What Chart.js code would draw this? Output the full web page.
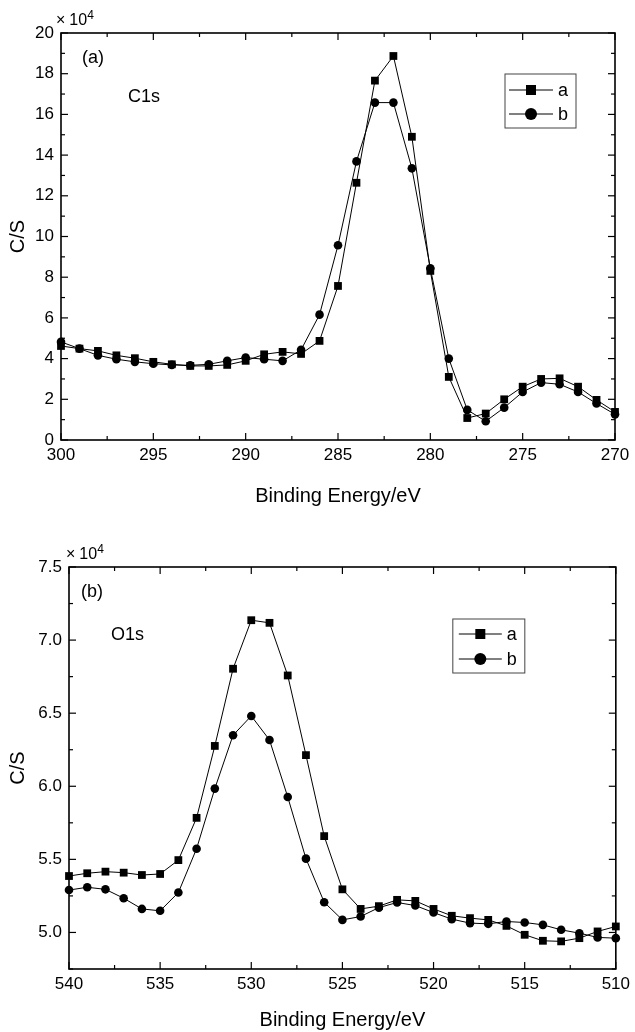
<!DOCTYPE html>
<html>
<head>
<meta charset="utf-8">
<script src="https://cdn.jsdelivr.net/npm/chart.js@4.4.1/dist/chart.umd.min.js"></script>
<style>
  html, body { margin: 0; padding: 0; background: #fff; }
  body { width: 635px; height: 1032px; position: relative; overflow: hidden; }
  .panel { position: absolute; left: 0; width: 635px; }
  #boxA { top: 0; height: 515px; }
  #boxB { top: 515px; height: 517px; }
</style>
</head>
<body>
<div class="panel" id="boxA"><canvas id="chartA" width="635" height="515"></canvas></div>
<div class="panel" id="boxB"><canvas id="chartB" width="635" height="517"></canvas></div>
<script>
'use strict';

// ---- data (C/S in units of 10^4) ----
let energyC = [300, 299, 298, 297, 296, 295, 294, 293, 292, 291, 290, 289, 288, 287, 286, 285,
  284, 283, 282, 281, 280, 279, 278, 277, 276, 275, 274, 273, 272, 271, 270];
let c1sA = [4.62, 4.49, 4.38, 4.16, 4.02, 3.84, 3.72, 3.64, 3.64, 3.69, 3.89, 4.21, 4.33, 4.23, 4.87, 7.57,
  12.64, 17.66, 18.87, 14.9, 8.31, 3.1, 1.08, 1.30, 2.0, 2.62, 3.0, 3.03, 2.62, 1.97, 1.38];
let c1sB = [4.82, 4.49, 4.16, 3.97, 3.84, 3.75, 3.69, 3.67, 3.72, 3.89, 4.05, 3.97, 3.89, 4.43, 6.16, 9.57,
  13.69, 16.58, 16.58, 13.35, 8.44, 4.0, 1.48, 0.92, 1.59, 2.36, 2.82, 2.74, 2.36, 1.79, 1.26];

let energyO = [540, 539, 538, 537, 536, 535, 534, 533, 532, 531, 530, 529, 528, 527, 526, 525,
  524, 523, 522, 521, 520, 519, 518, 517, 516, 515, 514, 513, 512, 511, 510];
let o1sA = [5.386, 5.405, 5.416, 5.409, 5.393, 5.40, 5.495, 5.784, 6.276, 6.804, 7.136, 7.118, 6.758, 6.213, 5.659, 5.295,
  5.161, 5.18, 5.223, 5.216, 5.161, 5.114, 5.098, 5.086, 5.045, 4.984, 4.943, 4.939, 4.961, 5.007, 5.041];
let o1sB = [5.29, 5.309, 5.295, 5.234, 5.161, 5.148, 5.273, 5.573, 5.984, 6.349, 6.481, 6.317, 5.927, 5.505, 5.207, 5.086,
  5.109, 5.17, 5.205, 5.184, 5.136, 5.091, 5.064, 5.059, 5.075, 5.068, 5.052, 5.018, 4.995, 4.966, 4.961];

// ---- tick labels / tick marks ----
let xTicksC = [300, 295, 290, 285, 280, 275, 270];
let xMinorC = [297.5, 292.5, 287.5, 282.5, 277.5, 272.5];
let yTicksC = [0, 2, 4, 6, 8, 10, 12, 14, 16, 18, 20];
let yMinorC = [1, 3, 5, 7, 9, 11, 13, 15, 17, 19];

let xTicksO = [540, 535, 530, 525, 520, 515, 510];
let xMinorO = [537.5, 532.5, 527.5, 522.5, 517.5, 512.5];
let yTicksO = [5.0, 5.5, 6.0, 6.5, 7.0, 7.5];
let yMinorO = [4.75, 5.25, 5.75, 6.25, 6.75, 7.25];

let seriesNames = ['a', 'b'];

const FONT = "'Liberation Sans', Arial, sans-serif";

function toPoints(xs, ys) {
  let pts = [];
  for (let i = 0; i < xs.length; i++) {
    pts.push({ x: xs[i], y: ys[i] });
  }
  return pts;
}

function drawMarker(ctx, style, x, y) {
  ctx.beginPath();
  if (style === 'rect') {
    ctx.rect(x - 5, y - 5, 10, 10);
  } else {
    ctx.arc(x, y, 6, 0, Math.PI * 2);
  }
  ctx.fill();
}

// frame, inward ticks, legend and notes
const framePlugin = {
  id: 'frame',
  afterDraw(chart, args, opts) {
    const ctx = chart.ctx;
    const a = chart.chartArea;
    const xs = chart.scales.x;
    const ys = chart.scales.y;
    ctx.save();
    ctx.strokeStyle = '#000';
    ctx.fillStyle = '#000';

    function seg(x1, y1, x2, y2) {
      ctx.beginPath();
      ctx.moveTo(x1, y1);
      ctx.lineTo(x2, y2);
      ctx.stroke();
    }

    ctx.lineWidth = 1.2;
    opts.xMajor.forEach(v => {
      let p = xs.getPixelForValue(v);
      seg(p, a.bottom, p, a.bottom - 7);
      seg(p, a.top, p, a.top + 7);
    });
    opts.xMinor.forEach(v => {
      let p = xs.getPixelForValue(v);
      seg(p, a.bottom, p, a.bottom - 4);
      seg(p, a.top, p, a.top + 4);
    });
    opts.yMajor.forEach(v => {
      let p = ys.getPixelForValue(v);
      seg(a.left, p, a.left + 7, p);
      seg(a.right, p, a.right - 7, p);
    });
    opts.yMinor.forEach(v => {
      let p = ys.getPixelForValue(v);
      seg(a.left, p, a.left + 4, p);
      seg(a.right, p, a.right - 4, p);
    });

    ctx.lineWidth = 1.6;
    ctx.strokeRect(a.left, a.top, a.right - a.left, a.bottom - a.top);

    // notes
    ctx.textBaseline = 'middle';
    ctx.textAlign = 'left';
    opts.notes.forEach(n => {
      ctx.font = '18px ' + FONT;
      ctx.fillText(n.text, a.left + n.dx, a.top + n.dy);
    });

    // x10^4 multiplier
    let mx = a.left + opts.mult.dx;
    let my = a.top + opts.mult.dy;
    ctx.font = '16px ' + FONT;
    ctx.fillText('\u00d7', mx, my);
    let w = ctx.measureText('\u00d7').width;
    ctx.fillText('10', mx + w + 4, my);
    let w2 = ctx.measureText('10').width;
    ctx.font = '12px ' + FONT;
    ctx.fillText('4', mx + w + w2 + 4, my - 5);

    // legend
    const lg = opts.legend;
    let lx = a.right - lg.fromRight;
    let ly = a.top + lg.dy;
    ctx.lineWidth = 1;
    ctx.strokeStyle = '#444';
    ctx.strokeRect(lx, ly, lg.w, lg.h);
    ctx.strokeStyle = '#000';
    chart.data.datasets.forEach((ds, i) => {
      let ry = ly + lg.row0 + i * lg.rowGap;
      let x0 = lx + lg.lineStart;
      ctx.lineWidth = 1;
      seg(x0, ry, x0 + lg.line, ry);
      drawMarker(ctx, ds.pointStyle, x0 + lg.line / 2, ry);
      ctx.font = '18px ' + FONT;
      ctx.textAlign = 'left';
      ctx.fillText(ds.label, x0 + lg.line + 5, ry + 1);
    });
    ctx.restore();
  }
};

function makePanel(id, cfg) {
  let ctx = document.getElementById(id).getContext('2d');
  return new Chart(ctx, {
    type: 'scatter',
    data: {
      datasets: [{
        label: seriesNames[0],
        data: toPoints(cfg.energy, cfg.a),
        showLine: true,
        borderColor: '#000',
        borderWidth: 1,
        pointStyle: 'rect',
        pointRadius: 5.5,
        pointBackgroundColor: '#000',
        pointBorderWidth: 0,
        clip: false
      }, {
        label: seriesNames[1],
        data: toPoints(cfg.energy, cfg.b),
        showLine: true,
        borderColor: '#000',
        borderWidth: 1,
        pointStyle: 'circle',
        pointRadius: 4.3,
        pointBackgroundColor: '#000',
        pointBorderWidth: 0,
        clip: false
      }]
    },
    options: {
      responsive: false,
      animation: false,
      devicePixelRatio: 1,
      layout: { padding: cfg.padding },
      plugins: {
        legend: { display: false },
        tooltip: { enabled: false },
        frame: cfg.frame
      },
      scales: {
        x: {
          type: 'linear',
          reverse: true,
          min: cfg.xMin,
          max: cfg.xMax,
          grid: { display: false, drawTicks: false },
          border: { display: false },
          afterBuildTicks: s => { s.ticks = cfg.xTicks.map(v => ({ value: v })); },
          afterFit: s => { s.height = cfg.xHeight; },
          ticks: {
            autoSkip: false,
            maxRotation: 0,
            padding: 5,
            color: '#000',
            font: { family: FONT, size: 17 },
            callback: v => String(v)
          },
          title: {
            display: true,
            text: 'Binding Energy/eV',
            color: '#000',
            font: { family: FONT, size: 20 },
            padding: { top: 0, bottom: cfg.titlePad }
          }
        },
        y: {
          type: 'linear',
          min: cfg.yMin,
          max: cfg.yMax,
          grid: { display: false, drawTicks: false },
          border: { display: false },
          afterBuildTicks: s => { s.ticks = cfg.yTicks.map(v => ({ value: v })); },
          afterFit: s => { s.width = cfg.yWidth; },
          ticks: {
            autoSkip: false,
            padding: 7,
            color: '#000',
            font: { family: FONT, size: 17 },
            callback: cfg.yFormat
          },
          title: {
            display: true,
            text: 'C/S',
            color: '#000',
            font: { family: FONT, size: 20 },
            padding: { top: 6, bottom: 0 }
          }
        }
      }
    },
    plugins: [framePlugin]
  });
}

makePanel('chartA', {
  energy: energyC, a: c1sA, b: c1sB,
  xMin: 270, xMax: 300, yMin: 0, yMax: 20,
  xTicks: xTicksC, yTicks: yTicksC,
  yFormat: v => String(v),
  padding: { left: 0, top: 33, right: 20, bottom: 0 },
  xHeight: 75, yWidth: 61, titlePad: 7,
  frame: {
    xMajor: xTicksC, xMinor: xMinorC, yMajor: yTicksC, yMinor: yMinorC,
    notes: [{ text: '(a)', dx: 21, dy: 25 }, { text: 'C1s', dx: 67, dy: 64 }],
    mult: { dx: -5, dy: -12 },
    legend: { fromRight: 110, dy: 41, w: 71, h: 54, row0: 16, rowGap: 24, lineStart: 4, line: 44 }
  }
});

makePanel('chartB', {
  energy: energyO, a: o1sA, b: o1sB,
  xMin: 510, xMax: 540, yMin: 4.75, yMax: 7.5,
  xTicks: xTicksO, yTicks: yTicksO,
  yFormat: v => v.toFixed(1),
  padding: { left: 0, top: 52, right: 18, bottom: 0 },
  xHeight: 63, yWidth: 69, titlePad: 0,
  frame: {
    xMajor: xTicksO, xMinor: xMinorO, yMajor: yTicksO, yMinor: yMinorO,
    notes: [{ text: '(b)', dx: 12, dy: 25 }, { text: 'O1s', dx: 42, dy: 68 }],
    mult: { dx: -3, dy: -12 },
    legend: { fromRight: 163, dy: 52, w: 72, h: 54, row0: 15, rowGap: 25, lineStart: 6, line: 43 }
  }
});
</script>
</body>
</html>
